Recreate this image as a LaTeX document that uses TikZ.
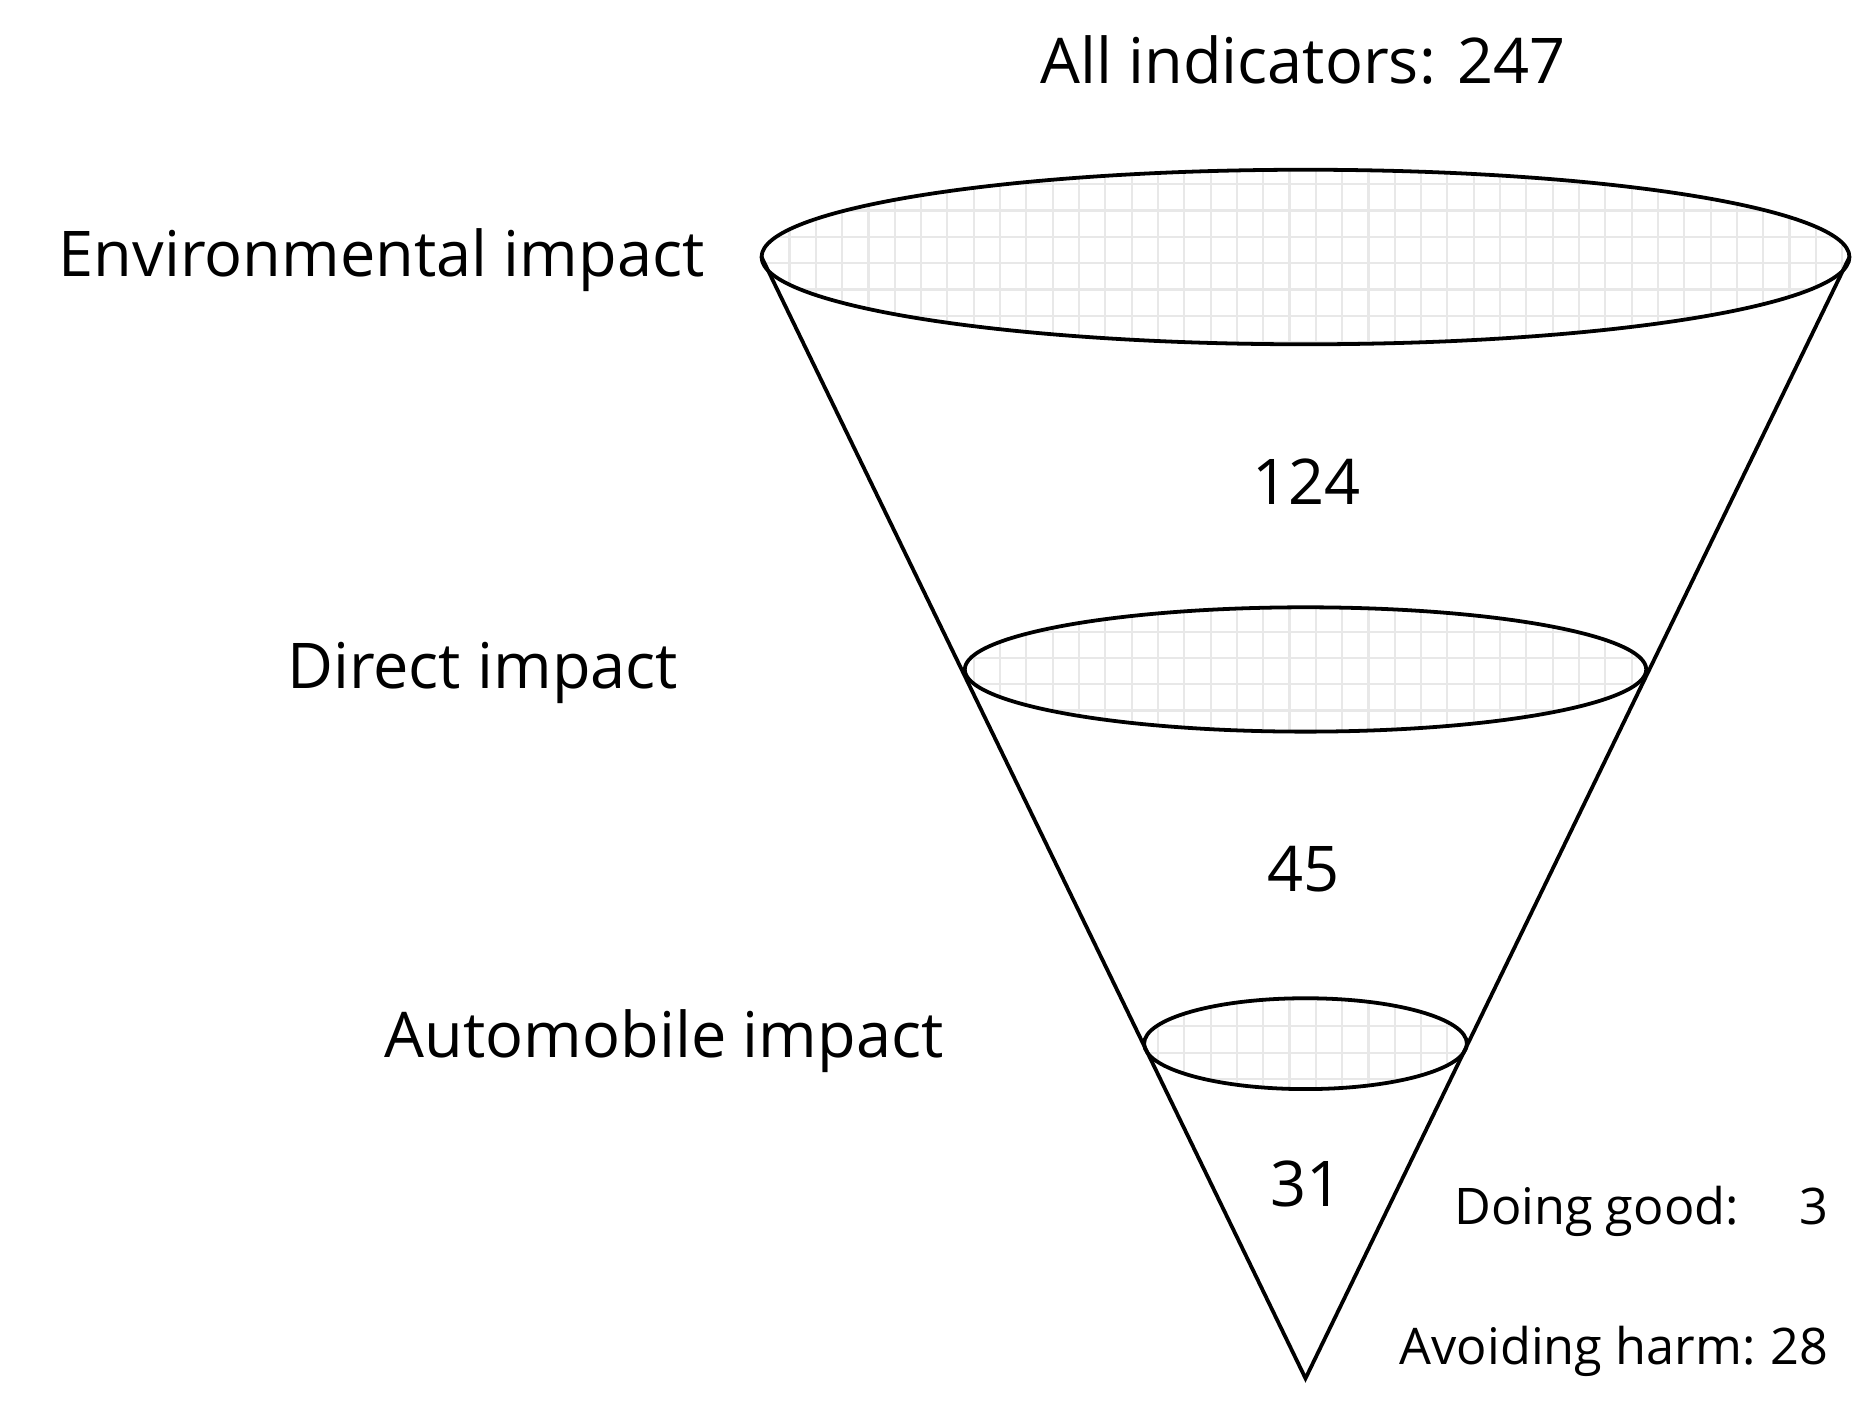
\documentclass[tikz,border=0pt]{standalone}
\usepackage{fontspec}
\setmainfont{Open Sans}
\begin{document}
\begin{tikzpicture}[x=0.01cm,y=-0.01cm,
  lbl/.style={font=\fontsize{15}{18}\selectfont, inner sep=0pt},
  small/.style={font=\fontsize{12}{14}\selectfont, inner sep=0pt, anchor=east},
  edge/.style={line width=0.9pt}]
\useasboundingbox (0,0) rectangle (1560,1177);
% grids inside ellipses
\foreach \cx/\cy/\rx/\ry in {1092/215/455/73, 1092/560/285/52, 1092/873/135/38}{
  \begin{scope}
    \clip (\cx,\cy) ellipse [x radius=\rx, y radius=\ry];
    \draw[gray!18, line width=0.5pt, step=0.22cm] (\cx-\rx,\cy-\ry) grid (\cx+\rx,\cy+\ry);
  \end{scope}
}
\coordinate (apex) at (1092,1153);
\coordinate (tl) at (637,215);
\coordinate (tr) at (1547,215);
\draw[edge] (tl) -- (apex) -- (tr);
\draw[edge] (1092,215) ellipse [x radius=455, y radius=73];
\draw[edge] (1092,560) ellipse [x radius=285, y radius=52];
\draw[edge] (1092,873) ellipse [x radius=135, y radius=38];
\node[lbl] (all) at (1090,50) {All indicators: 247};
\node[lbl, anchor=east] (env) at (590,218) {Environmental impact};
\node[lbl, anchor=east] (dir) at (568,563) {Direct impact};
\node[lbl, anchor=east] (auto) at (790,871) {Automobile impact};
\node[lbl] (n1) at (1093,403) {124};
\node[lbl] (n2) at (1090,727) {45};
\node[lbl] (n3) at (1093,990) {31};
\node[small] (good) at (1530,1013) {Doing good:\hspace{1.2em}3};
\node[small] (harm) at (1530,1130) {Avoiding harm:\hspace{0.3em}28};
\end{tikzpicture}
\end{document}
